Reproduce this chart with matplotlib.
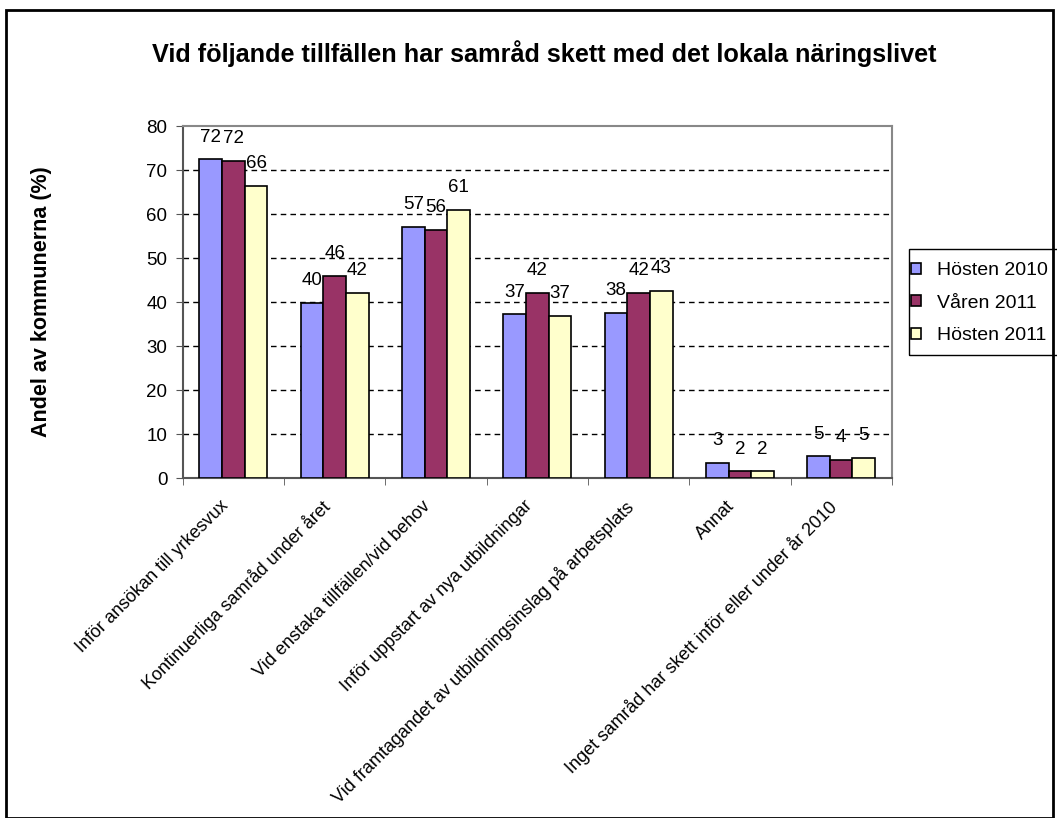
import numpy as np
import matplotlib.pyplot as plt
import matplotlib.transforms as mtransforms
from matplotlib.patches import Rectangle

plt.rcParams['font.family'] = ['Liberation Sans', 'DejaVu Sans']

# Data
categories = ["Inför ansökan till yrkesvux",
              "Kontinuerliga samråd under året",
              "Vid enstaka tillfällen/vid behov",
              "Inför uppstart av nya utbildningar",
              "Vid framtagandet av utbildningsinslag på arbetsplats",
              "Annat",
              "Inget samråd har skett inför eller under år 2010"]
series_names = ["Hösten 2010", "Våren 2011", "Hösten 2011"]
hosten_2010 = [72.4, 39.8, 57.1, 37.2, 37.5, 3.4, 4.9]
varen_2011 = [72.1, 45.9, 56.4, 42.1, 42.1, 1.5, 4.2]
hosten_2011 = [66.4, 42.1, 60.9, 36.8, 42.5, 1.5, 4.6]
colors = ["#9999FF", "#993366", "#FFFFCC"]

fig = plt.figure(figsize=(10.57, 8.18), dpi=100)
ax = fig.add_axes([0.1729, 0.4156, 0.6708, 0.4303])

# Outer frame of the chart
fig.patches.append(Rectangle((6 / 1057, 0), 1047 / 1057, 808 / 818, transform=fig.transFigure,
                             fill=False, edgecolor='black', linewidth=2))

x = np.arange(len(categories))
w = 0.224
all_series = [hosten_2010, varen_2011, hosten_2011]
for k, (vals, name, c) in enumerate(zip(all_series, series_names, colors)):
    bars = ax.bar(x + (k - 1) * w, vals, w, color=c, edgecolor='black', linewidth=1.2,
                  label=name, zorder=3)
    for b, v in zip(bars, vals):
        ax.annotate(f"{int(v + 0.5)}", (b.get_x() + b.get_width() / 2, v),
                    xytext=(0, 16), textcoords='offset points',
                    ha='center', va='center', fontsize=13.5)

ax.set_xlim(-0.5, len(categories) - 0.5)
ax.set_ylim(0, 80)
ax.set_yticks(range(0, 81, 10))
ax.tick_params(axis='y', labelsize=13.5, length=5, color='#555555', direction='out', pad=6)

# category labels at centres, tick marks at the boundaries
ax.set_xticks(x)
ax.set_xticklabels(categories, rotation=45, ha='right', va='top', rotation_mode='anchor',
                   fontsize=13)
ax.tick_params(axis='x', length=0, pad=14)
shift = mtransforms.ScaledTranslation(-14 / 100, 0, fig.dpi_scale_trans)
for lbl in ax.get_xticklabels():
    lbl.set_transform(lbl.get_transform() + shift)
ax.set_xticks(np.arange(-0.5, len(categories)), minor=True)
ax.tick_params(axis='x', which='minor', length=5, color='#555555', direction='out')

for y in range(10, 80, 10):
    ax.axhline(y, color='black', linewidth=1, dashes=(4, 3), zorder=1)

ax.spines['left'].set_color('#555555')
ax.spines['bottom'].set_color('#555555')
ax.spines['left'].set_linewidth(1.5)
ax.spines['bottom'].set_linewidth(1.5)
ax.spines['top'].set_color('#888888')
ax.spines['right'].set_color('#888888')
ax.spines['top'].set_linewidth(1.5)
ax.spines['right'].set_linewidth(1.5)

fig.text(42 / 1057, 0.631, "Andel av kommunerna (%)", rotation=90, ha='center', va='center',
         fontsize=15.5, fontweight='bold')

fig.text(0.515, 0.935, "Vid följande tillfällen har samråd skett med det lokala näringslivet",
         ha='center', va='center', fontsize=18.2, fontweight='bold')

# legend box drawn separately so the markers sit close to its left edge
fig.patches.append(Rectangle((909 / 1057, 1 - 355 / 818), 160 / 1057, 106 / 818,
                             transform=fig.transFigure, fill=False, edgecolor='black',
                             linewidth=1))
ax.legend(loc='upper left', bbox_to_anchor=(909 / 1057, 1 - 260 / 818),
          bbox_transform=fig.transFigure, fontsize=14, frameon=False,
          handlelength=0.5, handleheight=0.5, handletextpad=0.85, borderpad=0.1,
          labelspacing=0.8, borderaxespad=0)

fig.savefig("out.png", dpi=100)
